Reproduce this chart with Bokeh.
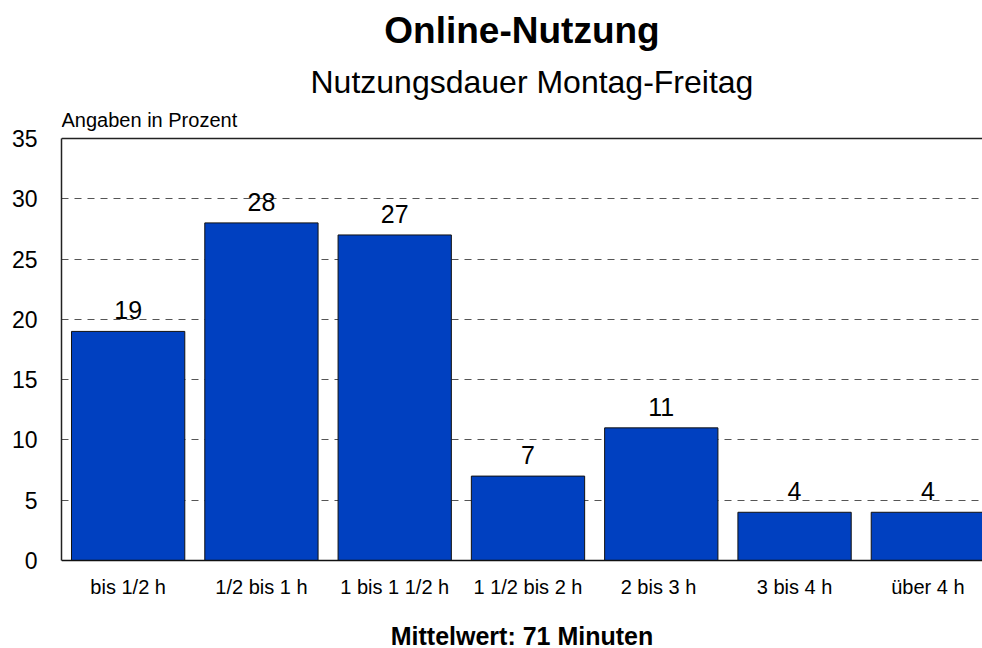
from bokeh.plotting import figure
from bokeh.models import (ColumnDataSource, Range1d, FixedTicker, LabelSet, Label,
                          Title, Span)
from bokeh.core.properties import value
from bokeh.embed import file_html
from bokeh.resources import INLINE

# ---- data ----
categories = ["bis 1/2 h", "1/2 bis 1 h", "1 bis 1 1/2 h", "1 1/2 bis 2 h",
              "2 bis 3  h", "3 bis 4 h", "über 4 h"]
values = [19, 28, 27, 7, 11, 4, 4]
y_ticks = [0, 5, 10, 15, 20, 25, 30, 35]
title_text = "Online-Nutzung"
subtitle_text = "Nutzungsdauer Montag-Freitag"
unit_text = "Angaben in Prozent"
footer_text = "Mittelwert: 71 Minuten"

FONT = "Liberation Sans"
BAR_COLOR = "#0040C0"

xs = [i + 0.5 for i in range(len(categories))]
src = ColumnDataSource(dict(x=xs, top=values, lbl=[str(v) for v in values]))
cat_src = ColumnDataSource(dict(x=xs, y=[0] * len(xs), lbl=categories))

# ---- layout (canvas pixels) ----
W, H = 982, 648
FL, FR, FT, FB = 61, 982, 110, 648      # frame edges
Y0_PX, YTOP_PX = 560, 138               # where 0 and 35 sit on the canvas
YMAX = y_ticks[-1]
PX_Y = (Y0_PX - YTOP_PX) / YMAX
XMAX = 6.91
y_start = -(FB - Y0_PX) / PX_Y
y_end = YMAX + (YTOP_PX - FT) / PX_Y

p = figure(width=W, height=H, output_backend="svg", toolbar_location=None,
           x_range=Range1d(0, XMAX), y_range=Range1d(y_start, y_end),
           x_axis_location=None,
           min_border_left=FL, min_border_right=W - FR, min_border_top=FT,
           min_border_bottom=0)
try:
    p.title = None
except Exception:
    p.title.text = ""
p.outline_line_color = None
p.background_fill_color = "white"
p.border_fill_color = "white"

p.vbar(x="x", top="top", bottom=0, width=0.85, source=src,
       fill_color=BAR_COLOR, line_color="#111111", line_width=1)

# y axis (only between 0 and 35)
p.yaxis.ticker = FixedTicker(ticks=y_ticks)
p.yaxis.bounds = (0, YMAX)
p.yaxis.major_tick_line_color = None
p.yaxis.minor_tick_line_color = None
p.yaxis.axis_line_color = "#222222"
p.yaxis.axis_line_width = 1.5
p.yaxis.major_label_text_font = FONT
p.yaxis.major_label_text_font_size = "23px"
p.yaxis.major_label_text_color = "black"
p.yaxis.major_label_standoff = 18

p.xgrid.grid_line_color = None
p.ygrid.ticker = FixedTicker(ticks=y_ticks)
p.ygrid.grid_line_color = "#555555"
p.ygrid.grid_line_dash = "7 6"
p.ygrid.grid_line_width = 1

# baseline (x axis line) and top line at 35
p.add_layout(Span(location=0, dimension="width", line_color="#111111",
                  line_width=1.5))
p.add_layout(Span(location=YMAX, dimension="width", line_color="#222222",
                  line_width=1.5))

# value labels
p.add_layout(LabelSet(x="x", y="top", text="lbl", source=src, y_offset=12,
                      text_align="center", text_baseline="alphabetic",
                      text_font=value(FONT), text_font_size=value("25px"),
                      text_color=value("black")))
# category labels
p.add_layout(LabelSet(x="x", y="y", text="lbl", source=cat_src, y_offset=-33,
                      text_align="center", text_baseline="alphabetic",
                      text_font=value(FONT), text_font_size=value("20px"),
                      text_color=value("black")))

# unit note above the plot area
p.add_layout(Label(x=0, y=YMAX, y_offset=19, text=unit_text, text_font=FONT,
                   text_font_size="20px", text_align="left",
                   text_baseline="alphabetic", text_color="black"))
# footer
p.add_layout(Label(x=(521.5 - FL) / ((FR - FL) / XMAX), y=0, y_offset=-75,
                   text=footer_text, text_font=FONT, text_font_size="25px",
                   text_font_style="bold", text_align="center",
                   text_baseline="alphabetic", text_color="black"))

# titles: first added 'above' sits nearest to the frame
p.add_layout(Title(text=subtitle_text, align="left", offset=249, standoff=22,
                   text_font=FONT, text_font_size="32px",
                   text_font_style="normal", text_color="black"), "above")
p.add_layout(Title(text=title_text, align="center", standoff=0,
                   text_font=FONT, text_font_size="37px",
                   text_font_style="bold", text_color="black"), "above")

open("out.html", "w").write(file_html(p, INLINE))
